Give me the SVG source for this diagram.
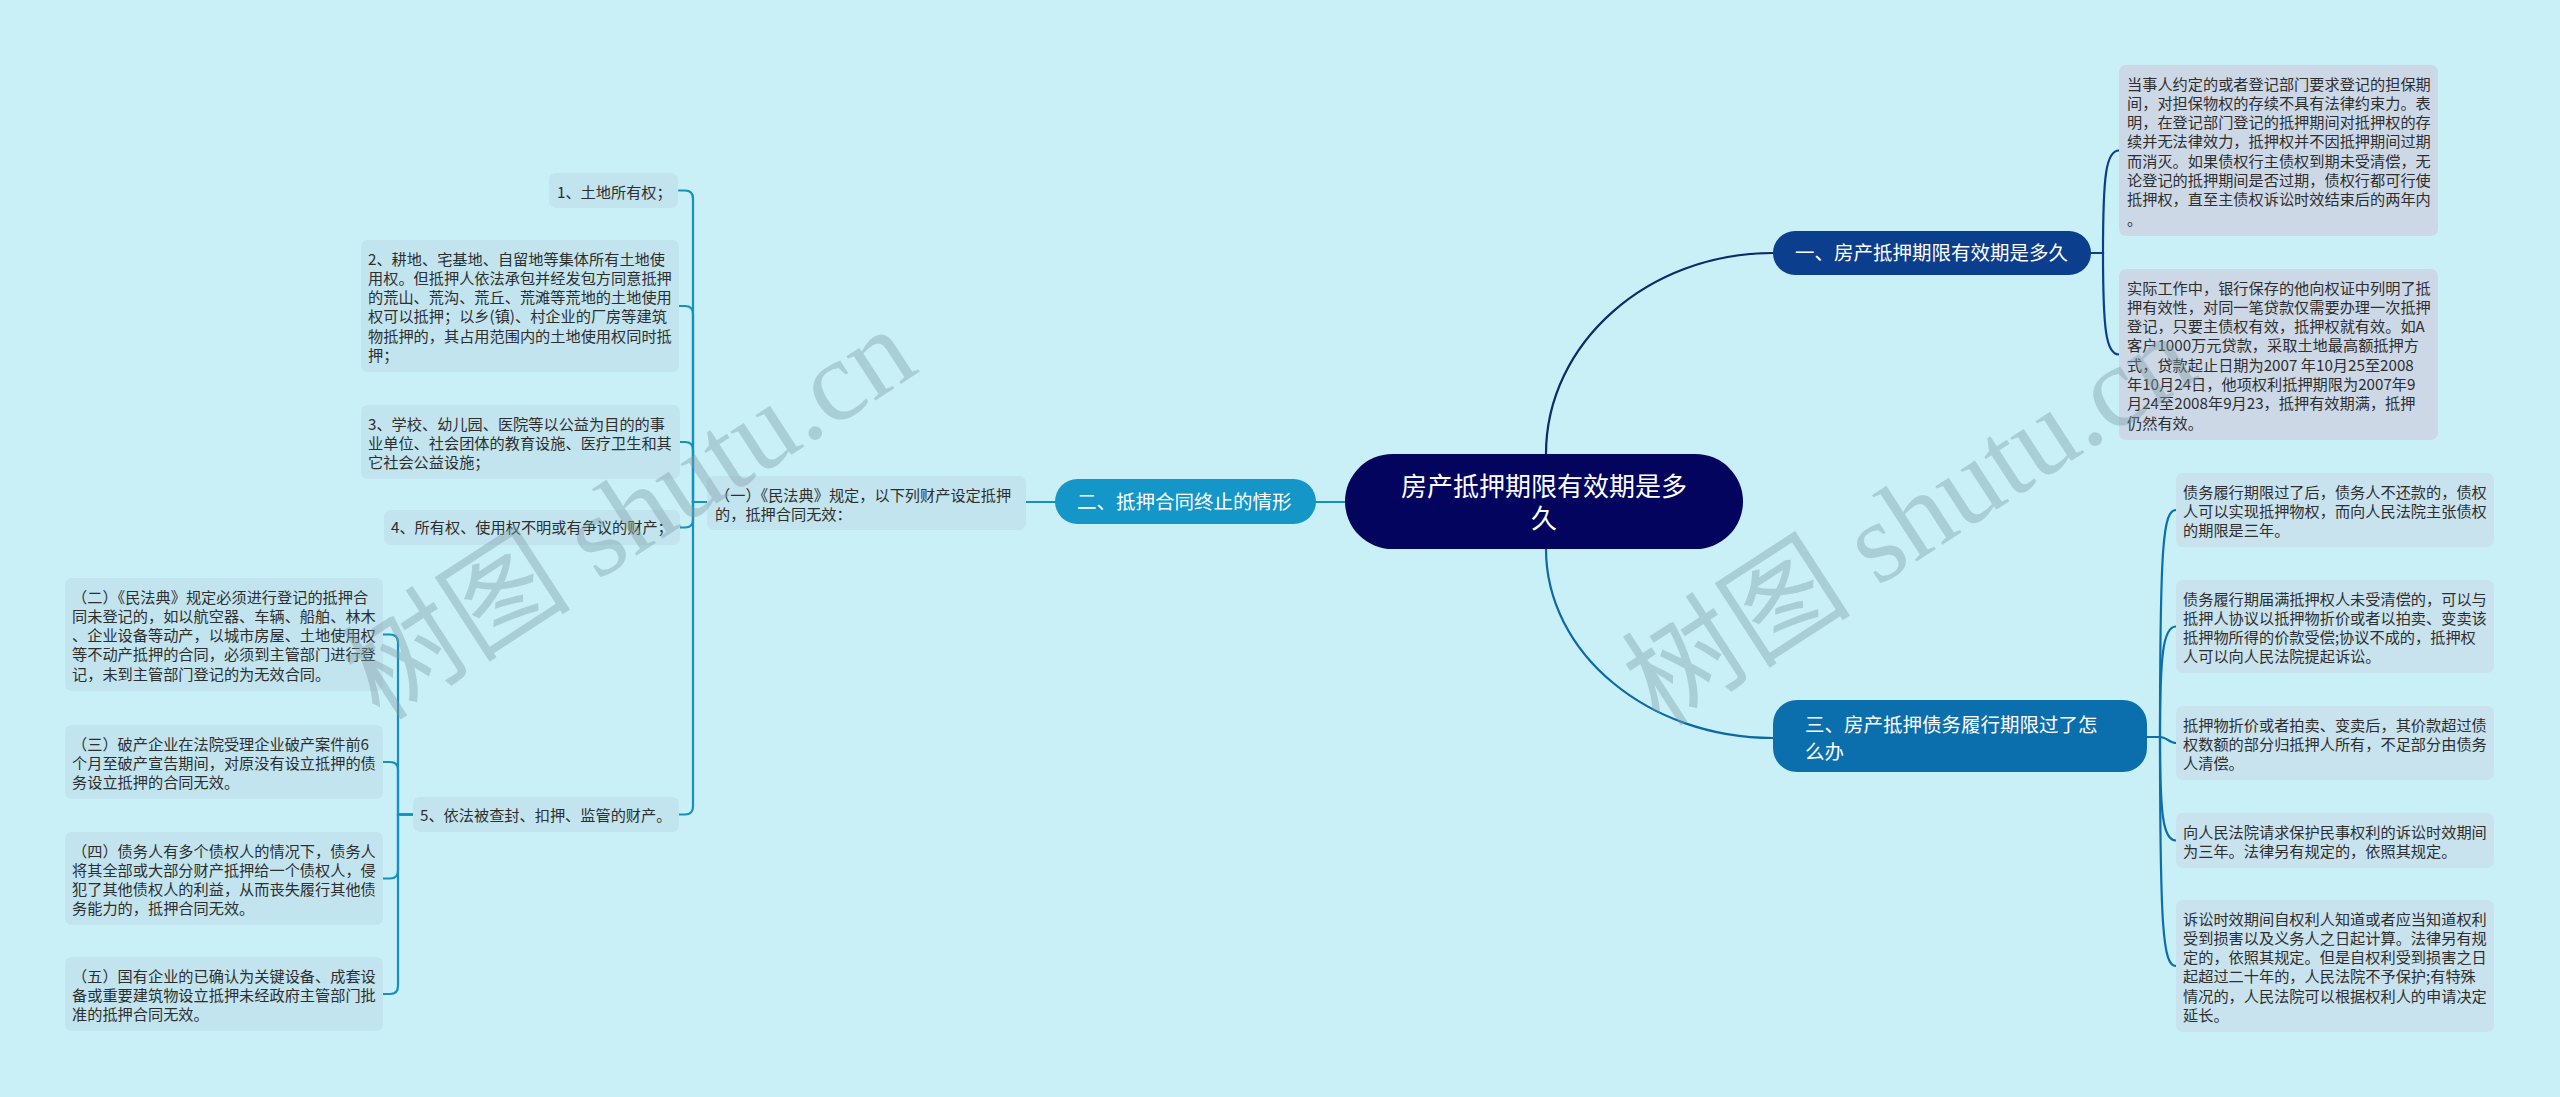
<svg xmlns="http://www.w3.org/2000/svg" width="2560" height="1097" viewBox="0 0 2560 1097">
<style>
text{font-family:"Noto Sans CJK SC","Noto Sans",sans-serif;}
.leaf{font-size:15.2px;fill:#2e2e2e;}
.br{font-size:19.5px;fill:#ffffff;}
.root{font-size:26px;fill:#ffffff;}
.ab{fill:#cdd8e7;}
.cb{fill:#c8e2ee;}
.lb{fill:#c2e4ee;}
.ln{fill:none;stroke-width:2.2;stroke-linecap:round;}
.wm{font-family:"Liberation Serif","Noto Sans CJK SC",serif;font-size:115px;fill:#7d9ea6;opacity:0.4;}
</style>
<rect x="0" y="0" width="2560" height="1097" fill="#c9eff7"/>

<g id="connectors">
  <path class="ln" stroke="#0b2b6b" d="M1546,454 C1546,343 1648,253 1773,253"/>
  <path class="ln" stroke="#0b6aa6" d="M1546,549 C1546,653 1648,738 1773,738"/>
  <path class="ln" stroke="#1590c2" d="M1345,502 H1316"/>
  <path class="ln" stroke="#1590c2" d="M1055,502 H1026"/>
  <path class="ln" stroke="#0b3e8c" d="M2091,253 H2103 C2103,175 2106,150.5 2119,150.5"/>
  <path class="ln" stroke="#0b3e8c" d="M2091,253 H2103 C2103,330 2106,354.5 2119,354.5"/>
  <path class="ln" stroke="#0b6fae" d="M2147,737 H2160 C2160,545 2163,510 2176,510"/>
  <path class="ln" stroke="#0b6fae" d="M2147,737 H2160 C2160,655 2163,626.5 2176,626.5"/>
  <path class="ln" stroke="#0b6fae" d="M2147,737 H2160 C2166,737 2170,743 2176,743"/>
  <path class="ln" stroke="#0b6fae" d="M2147,737 H2160 C2160,815 2163,840.5 2176,840.5"/>
  <path class="ln" stroke="#0b6fae" d="M2147,737 H2160 C2160,930 2163,966 2176,966"/>
  <path class="ln" stroke="#1590c2" d="M707,502 H693 V198.5 Q693,190.5 685,190.5 H679"/>
  <path class="ln" stroke="#1590c2" d="M707,502 H693 V314 Q693,306 685,306 H679"/>
  <path class="ln" stroke="#1590c2" d="M707,502 H693 V450 Q693,442 685,442 H680"/>
  <path class="ln" stroke="#1590c2" d="M707,502 H693 V519.5 Q693,527.5 685,527.5 H680"/>
  <path class="ln" stroke="#1590c2" d="M707,502 H693 V806.5 Q693,814.5 685,814.5 H679"/>
  <path class="ln" stroke="#1590c2" d="M413,814.5 H398 V642.5 Q398,634.5 390,634.5 H383"/>
  <path class="ln" stroke="#1590c2" d="M413,814.5 H398 V770 Q398,762 390,762 H383"/>
  <path class="ln" stroke="#1590c2" d="M413,814.5 H398 V870.5 Q398,878.5 390,878.5 H383"/>
  <path class="ln" stroke="#1590c2" d="M413,814.5 H398 V986 Q398,994 390,994 H383"/>
</g>

<g id="root">
  <rect x="1345" y="454" width="398" height="95" rx="47.5" fill="#03045e"/>
  <text class="root" text-anchor="middle"><tspan x="1544" y="495.5">房产抵押期限有效期是多</tspan><tspan x="1544" y="528">久</tspan></text>
</g>

<g id="branch1">
  <rect x="1773" y="231" width="318" height="44" rx="22" fill="#0b3e8c"/>
  <text class="br" x="1795" y="260">一、房产抵押期限有效期是多久</text>
</g>
<g id="branch2">
  <rect x="1055" y="479" width="261" height="45" rx="22.5" fill="#1596c8"/>
  <text class="br" x="1077" y="509">二、抵押合同终止的情形</text>
</g>
<g id="branch3">
  <rect x="1773" y="700" width="374" height="72" rx="24" fill="#0b6fae"/>
  <text class="br"><tspan x="1805" y="732">三、房产抵押债务履行期限过了怎</tspan><tspan x="1805" y="759">么办</tspan></text>
</g>

<g id="nodeA">
  <rect class="ab" x="2119" y="65" width="319" height="171" rx="7"/>
  <text class="leaf"><tspan x="2127" y="89.5">当事人约定的或者登记部门要求登记的担保期</tspan><tspan x="2127" y="108.8">间，对担保物权的存续不具有法律约束力。表</tspan><tspan x="2127" y="128.1">明，在登记部门登记的抵押期间对抵押权的存</tspan><tspan x="2127" y="147.4">续并无法律效力，抵押权并不因抵押期间过期</tspan><tspan x="2127" y="166.7">而消灭。如果债权行主债权到期未受清偿，无</tspan><tspan x="2127" y="186">论登记的抵押期间是否过期，债权行都可行使</tspan><tspan x="2127" y="205.3">抵押权，直至主债权诉讼时效结束后的两年内</tspan><tspan x="2127" y="224.6">。</tspan></text>
</g>
<g id="nodeB">
  <rect class="ab" x="2119" y="269" width="319" height="171" rx="7"/>
  <text class="leaf"><tspan x="2127" y="293.5">实际工作中，银行保存的他向权证中列明了抵</tspan><tspan x="2127" y="312.8">押有效性，对同一笔贷款仅需要办理一次抵押</tspan><tspan x="2127" y="332.1">登记，只要主债权有效，抵押权就有效。如A</tspan><tspan x="2127" y="351.4">客户1000万元贷款，采取土地最高额抵押方</tspan><tspan x="2127" y="370.7">式，贷款起止日期为2007 年10月25至2008</tspan><tspan x="2127" y="390">年10月24日，他项权利抵押期限为2007年9</tspan><tspan x="2127" y="409.3">月24至2008年9月23，抵押有效期满，抵押</tspan><tspan x="2127" y="428.6">仍然有效。</tspan></text>
</g>

<g id="nodeC1">
  <rect class="cb" x="2176" y="473" width="318" height="74" rx="7"/>
  <text class="leaf"><tspan x="2183" y="497.5">债务履行期限过了后，债务人不还款的，债权</tspan><tspan x="2183" y="516.8">人可以实现抵押物权，而向人民法院主张债权</tspan><tspan x="2183" y="536.1">的期限是三年。</tspan></text>
</g>
<g id="nodeC2">
  <rect class="cb" x="2176" y="580" width="318" height="93" rx="7"/>
  <text class="leaf"><tspan x="2183" y="604.5">债务履行期届满抵押权人未受清偿的，可以与</tspan><tspan x="2183" y="623.8">抵押人协议以抵押物折价或者以拍卖、变卖该</tspan><tspan x="2183" y="643.1">抵押物所得的价款受偿;协议不成的，抵押权</tspan><tspan x="2183" y="662.4">人可以向人民法院提起诉讼。</tspan></text>
</g>
<g id="nodeC3">
  <rect class="cb" x="2176" y="706" width="318" height="74" rx="7"/>
  <text class="leaf"><tspan x="2183" y="730.5">抵押物折价或者拍卖、变卖后，其价款超过债</tspan><tspan x="2183" y="749.8">权数额的部分归抵押人所有，不足部分由债务</tspan><tspan x="2183" y="769.1">人清偿。</tspan></text>
</g>
<g id="nodeC4">
  <rect class="cb" x="2176" y="813" width="318" height="55" rx="7"/>
  <text class="leaf"><tspan x="2183" y="837.5">向人民法院请求保护民事权利的诉讼时效期间</tspan><tspan x="2183" y="856.8">为三年。法律另有规定的，依照其规定。</tspan></text>
</g>
<g id="nodeC5">
  <rect class="cb" x="2176" y="900" width="318" height="132" rx="7"/>
  <text class="leaf"><tspan x="2183" y="924.5">诉讼时效期间自权利人知道或者应当知道权利</tspan><tspan x="2183" y="943.8">受到损害以及义务人之日起计算。法律另有规</tspan><tspan x="2183" y="963.1">定的，依照其规定。但是自权利受到损害之日</tspan><tspan x="2183" y="982.4">起超过二十年的，人民法院不予保护;有特殊</tspan><tspan x="2183" y="1001.7">情况的，人民法院可以根据权利人的申请决定</tspan><tspan x="2183" y="1021">延长。</tspan></text>
</g>

<g id="nodeL0">
  <rect class="lb" x="707" y="476" width="319" height="54" rx="7"/>
  <text class="leaf"><tspan x="715" y="500.5">（一）《民法典》规定，以下列财产设定抵押</tspan><tspan x="715" y="519.8">的，抵押合同无效：</tspan></text>
</g>
<g id="nodeL1">
  <rect class="lb" x="549" y="173" width="129" height="35" rx="7"/>
  <text class="leaf" x="557" y="197.5">1、土地所有权；</text>
</g>
<g id="nodeL2">
  <rect class="lb" x="361" y="240" width="318" height="132" rx="7"/>
  <text class="leaf"><tspan x="368" y="264.5">2、耕地、宅基地、自留地等集体所有土地使</tspan><tspan x="368" y="283.8">用权。但抵押人依法承包并经发包方同意抵押</tspan><tspan x="368" y="303.1">的荒山、荒沟、荒丘、荒滩等荒地的土地使用</tspan><tspan x="368" y="322.4">权可以抵押；以乡(镇)、村企业的厂房等建筑</tspan><tspan x="368" y="341.7">物抵押的，其占用范围内的土地使用权同时抵</tspan><tspan x="368" y="361">押；</tspan></text>
</g>
<g id="nodeL3">
  <rect class="lb" x="361" y="405" width="319" height="74" rx="7"/>
  <text class="leaf"><tspan x="368" y="429.5">3、学校、幼儿园、医院等以公益为目的的事</tspan><tspan x="368" y="448.8">业单位、社会团体的教育设施、医疗卫生和其</tspan><tspan x="368" y="468.1">它社会公益设施；</tspan></text>
</g>
<g id="nodeL4">
  <rect class="lb" x="384" y="510" width="296" height="35" rx="7"/>
  <text class="leaf" x="391" y="533">4、所有权、使用权不明或有争议的财产；</text>
</g>
<g id="nodeL5">
  <rect class="lb" x="413" y="797" width="266" height="35" rx="7"/>
  <text class="leaf" x="420" y="821">5、依法被查封、扣押、监管的财产。</text>
</g>
<g id="nodeL5a">
  <rect class="lb" x="65" y="578" width="318" height="113" rx="7"/>
  <text class="leaf"><tspan x="72" y="602.5">（二）《民法典》规定必须进行登记的抵押合</tspan><tspan x="72" y="621.8">同未登记的，如以航空器、车辆、船舶、林木</tspan><tspan x="72" y="641.1">、企业设备等动产，以城市房屋、土地使用权</tspan><tspan x="72" y="660.4">等不动产抵押的合同，必须到主管部门进行登</tspan><tspan x="72" y="679.7">记，未到主管部门登记的为无效合同。</tspan></text>
</g>
<g id="nodeL5b">
  <rect class="lb" x="65" y="725" width="318" height="74" rx="7"/>
  <text class="leaf"><tspan x="72" y="749.5">（三）破产企业在法院受理企业破产案件前6</tspan><tspan x="72" y="768.8">个月至破产宣告期间，对原没有设立抵押的债</tspan><tspan x="72" y="788.1">务设立抵押的合同无效。</tspan></text>
</g>
<g id="nodeL5c">
  <rect class="lb" x="65" y="832" width="318" height="93" rx="7"/>
  <text class="leaf"><tspan x="72" y="856.5">（四）债务人有多个债权人的情况下，债务人</tspan><tspan x="72" y="875.8">将其全部或大部分财产抵押给一个债权人，侵</tspan><tspan x="72" y="895.1">犯了其他债权人的利益，从而丧失履行其他债</tspan><tspan x="72" y="914.4">务能力的，抵押合同无效。</tspan></text>
</g>
<g id="nodeL5d">
  <rect class="lb" x="65" y="957" width="318" height="74" rx="7"/>
  <text class="leaf"><tspan x="72" y="981.5">（五）国有企业的已确认为关键设备、成套设</tspan><tspan x="72" y="1000.8">备或重要建筑物设立抵押未经政府主管部门批</tspan><tspan x="72" y="1020.1">准的抵押合同无效。</tspan></text>
</g>

<g id="watermark">
  <text class="wm" transform="translate(380,722) rotate(-33)">树图 shutu.cn</text>
  <text class="wm" transform="translate(1660,728) rotate(-33)">树图 shutu.cn</text>
</g>
</svg>
